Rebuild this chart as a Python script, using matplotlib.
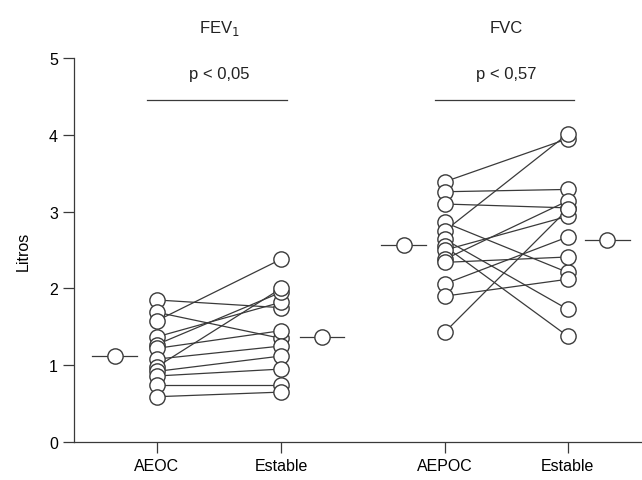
import numpy as np
import matplotlib.pyplot as plt

plt.rcParams['font.family'] = ['Liberation Sans', 'DejaVu Sans']

# valores (litros)
fev1_aeoc = [1.85, 1.69, 1.58, 1.37, 1.27, 1.22, 1.08, 0.98, 0.92, 0.86, 0.74, 0.59]
fev1_estable = [1.75, 1.35, 2.38, 1.82, 1.95, 1.45, 1.25, 2.00, 1.12, 0.95, 0.74, 0.65]
fev1_medias = [1.12, 1.37]

fvc_aepoc = [3.39, 3.26, 3.10, 2.86, 2.75, 2.64, 2.55, 2.50, 2.38, 2.34, 2.06, 1.90, 1.43]
fvc_estable = [3.95, 3.29, 3.05, 2.21, 4.01, 1.73, 1.38, 2.94, 3.14, 2.41, 2.67, 2.12, 3.03]
fvc_medias = [2.57, 2.63]

etiquetas = ['AEOC', 'Estable', 'AEPOC', 'Estable']
posiciones = [1.0, 2.0, 3.32, 4.31]
pos_medias = [0.66, 2.33, 2.99, 4.63]
titulos = ['FEV$_1$', 'FVC']
pvalores = ['p < 0,05', 'p < 0,57']

gris = '#3a3a3a'

fig = plt.figure(figsize=(6.42, 4.81), dpi=100)
ax = fig.add_axes([0.115, 0.079, 0.885, 0.798])

grupos = [(fev1_aeoc, fev1_estable, fev1_medias), (fvc_aepoc, fvc_estable, fvc_medias)]
for g, (antes, despues, medias) in enumerate(grupos):
    x0, x1 = posiciones[2 * g], posiciones[2 * g + 1]
    for a, d in zip(antes, despues):
        ax.plot([x0, x1], [a, d], color=gris, lw=0.9, zorder=1)
    ax.plot([x0] * len(antes), antes, 'o', ms=11, mfc='white', mec=gris, mew=1.0, zorder=3)
    ax.plot([x1] * len(despues), despues, 'o', ms=11, mfc='white', mec=gris, mew=1.0, zorder=3)
    # medias con su raya
    for xm, m in zip(pos_medias[2 * g:2 * g + 2], medias):
        ax.plot([xm - 0.18, xm + 0.18], [m, m], color=gris, lw=0.9, zorder=2)
        ax.plot(xm, m, 'o', ms=11, mfc='white', mec=gris, mew=1.0, zorder=3)
    # titulo y p
    xc = (x0 + x1) / 2
    ax.text(xc, 5.4, titulos[g], ha='center', va='center', fontsize=12, color='#222222', clip_on=False)
    ax.text(xc, 4.8, pvalores[g], ha='center', va='center', fontsize=12, color='#222222')
    ax.plot([x0 - 0.08, x1 + 0.05], [4.45, 4.45], color=gris, lw=0.9)

ax.set_xlim(0.33, 4.91)
ax.set_ylim(0, 5)
ax.set_xticks(posiciones)
ax.set_xticklabels(etiquetas, fontsize=11.5)
ax.set_yticks(range(6))
ax.tick_params(axis='both', direction='out', length=8, width=0.9, color=gris, labelsize=11.5)
ax.set_ylabel('Litros', fontsize=11.5)
ax.yaxis.set_label_coords(-0.075, 0.5)
for s in ['top', 'right']:
    ax.spines[s].set_visible(False)
for s in ['left', 'bottom']:
    ax.spines[s].set_color(gris)
    ax.spines[s].set_linewidth(0.9)

fig.savefig('out.png', dpi=100)
